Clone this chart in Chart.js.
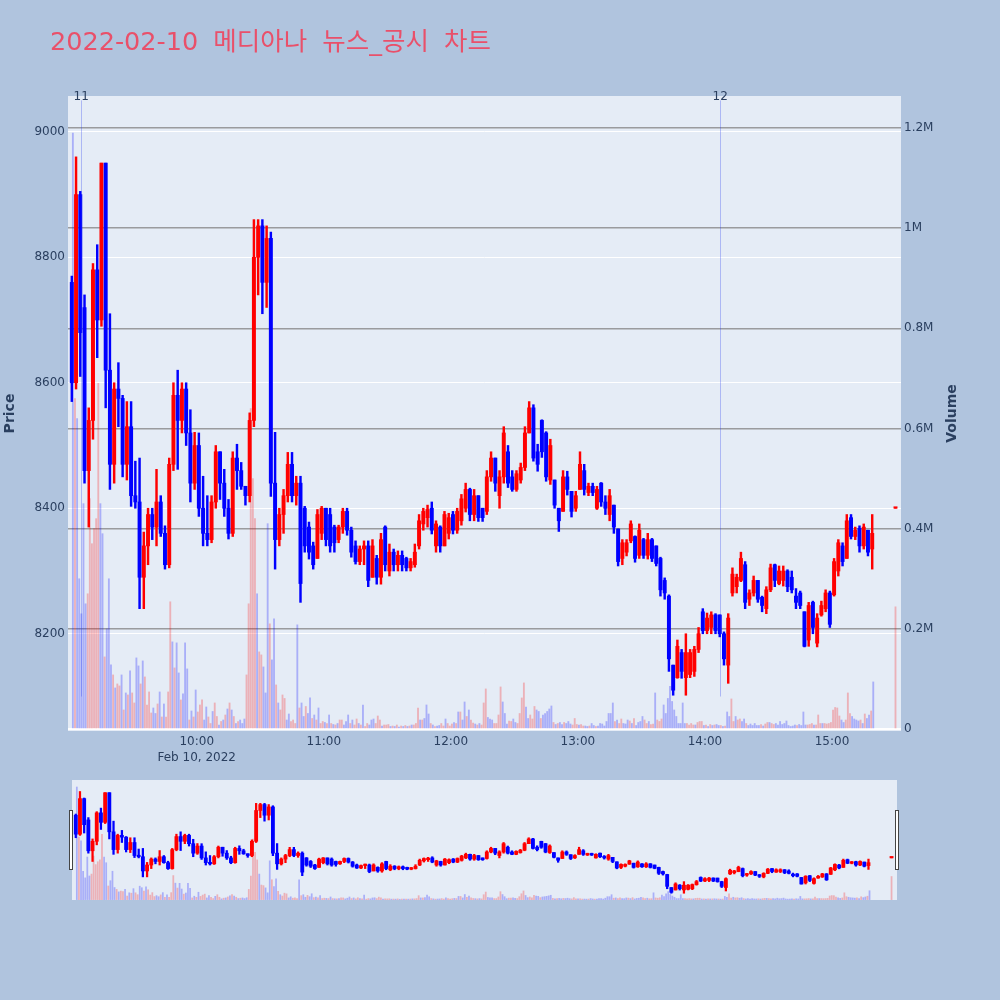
<!DOCTYPE html>
<html>
<head>
<meta charset="utf-8">
<script src="https://cdn.jsdelivr.net/npm/chart.js@4.4.1/dist/chart.umd.min.js"></script>
<style>
  html, body { margin: 0; padding: 0; background: #b0c4de; }
  #wrap { position: relative; width: 1000px; height: 1000px; }
  #main { position: absolute; left: 0; top: 0; }
  #slider { position: absolute; left: 60px; top: 775px; }
</style>
</head>
<body>
<div id="wrap">
  <canvas id="main" width="1000" height="1000"></canvas>
  <canvas id="slider" width="850" height="130"></canvas>
</div>
<script>
// 2-minute candles from 09:01, last one is the 15:30 closing auction
const openPrices = [
  8760,8600,8900,8720,8460,8540,8780,8700,8950,8620,
  8470,8590,8575,8470,8530,8420,8410,8290,8340,8390,
  8370,8410,8360,8310,8470,8580,8540,8590,8520,8440,
  8500,8400,8360,8350,8410,8490,8440,8400,8360,8480,
  8460,8435,8420,8540,8800,8850,8760,8830,8440,8350,
  8390,8420,8470,8420,8440,8400,8370,8340,8320,8360,
  8400,8390,8370,8350,8370,8395,8365,8340,8315,8335,
  8340,8290,8320,8290,8370,8300,8330,8310,8325,8320,
  8305,8310,8340,8375,8385,8400,8340,8370,8340,8360,
  8390,8365,8380,8400,8430,8390,8420,8400,8395,8450,
  8480,8420,8450,8490,8450,8430,8445,8465,8520,8560,
  8490,8540,8520,8445,8445,8400,8395,8450,8427,8400,
  8430,8460,8425,8435,8400,8440,8410,8390,8405,8367,
  8320,8330,8348,8355,8325,8350,8325,8350,8340,8320,
  8285,8260,8150,8130,8170,8130,8135,8140,8175,8235,
  8205,8210,8230,8230,8200,8150,8265,8275,8285,8310,
  8255,8265,8285,8258,8240,8270,8310,8280,8285,8300,
  8290,8260,8265,8235,8190,8250,8185,8230,8240,8265,
  8262,8300,8340,8320,8385,8355,8368,8340,8365,8335,
  8400
];
const highPrices = [
  8770,8960,8905,8740,8560,8790,8820,8950,8950,8710,
  8600,8632,8580,8570,8570,8475,8480,8362,8400,8400,
  8462,8420,8372,8480,8600,8620,8600,8600,8557,8521,
  8520,8451,8420,8420,8500,8490,8462,8414,8490,8502,
  8473,8435,8552,8860,8860,8860,8850,8840,8521,8400,
  8430,8489,8489,8451,8451,8403,8378,8346,8398,8403,
  8400,8400,8373,8373,8400,8400,8370,8348,8340,8348,
  8348,8350,8325,8360,8372,8343,8335,8332,8332,8322,
  8320,8343,8390,8400,8405,8410,8380,8372,8395,8392,
  8395,8400,8422,8440,8432,8430,8420,8400,8460,8490,
  8480,8460,8530,8500,8460,8460,8472,8530,8570,8565,
  8502,8541,8522,8510,8445,8400,8460,8459,8427,8427,
  8490,8470,8440,8440,8435,8441,8420,8430,8405,8367,
  8350,8350,8380,8356,8375,8352,8360,8352,8340,8322,
  8289,8262,8150,8190,8175,8200,8175,8180,8210,8240,
  8233,8235,8232,8230,8203,8232,8305,8295,8330,8315,
  8270,8292,8285,8260,8275,8311,8311,8308,8308,8302,
  8300,8272,8268,8235,8250,8252,8232,8252,8270,8268,
  8320,8350,8345,8390,8390,8370,8372,8375,8365,8390,
  8400
];
const lowPrices = [
  8570,8590,8610,8440,8370,8510,8640,8690,8560,8430,
  8440,8530,8450,8445,8403,8400,8240,8240,8310,8350,
  8340,8355,8303,8305,8460,8462,8520,8500,8410,8430,
  8387,8340,8340,8345,8400,8414,8387,8351,8355,8430,
  8430,8405,8410,8530,8740,8710,8720,8419,8303,8340,
  8360,8410,8410,8405,8250,8330,8319,8303,8320,8350,
  8340,8330,8330,8345,8360,8357,8322,8311,8310,8310,
  8275,8290,8279,8279,8300,8292,8300,8300,8300,8300,
  8300,8306,8335,8365,8370,8359,8330,8330,8340,8351,
  8359,8360,8373,8394,8380,8380,8379,8379,8390,8443,
  8427,8400,8440,8433,8427,8427,8440,8460,8520,8475,
  8459,8481,8443,8438,8400,8363,8395,8421,8386,8395,
  8430,8421,8420,8420,8398,8403,8390,8380,8360,8308,
  8310,8324,8345,8314,8320,8320,8319,8315,8308,8260,
  8255,8140,8102,8129,8129,8102,8130,8132,8170,8200,
  8200,8200,8200,8195,8150,8121,8260,8265,8283,8240,
  8245,8260,8250,8235,8232,8267,8275,8278,8276,8267,
  8265,8240,8240,8179,8180,8200,8179,8228,8235,8210,
  8260,8292,8308,8320,8351,8350,8330,8335,8324,8303,
  8400
];
const closePrices = [
  8600,8900,8680,8460,8540,8780,8700,8950,8620,8470,
  8590,8575,8470,8530,8420,8410,8290,8340,8390,8370,
  8410,8360,8310,8470,8580,8540,8590,8520,8440,8500,
  8400,8360,8350,8410,8490,8440,8400,8360,8480,8460,
  8435,8420,8540,8800,8850,8760,8830,8440,8350,8390,
  8420,8470,8420,8440,8280,8340,8330,8310,8390,8400,
  8350,8340,8345,8370,8395,8365,8330,8315,8335,8340,
  8285,8340,8290,8350,8310,8330,8310,8325,8310,8305,
  8315,8330,8380,8395,8398,8365,8375,8340,8390,8385,
  8365,8395,8415,8430,8390,8420,8385,8385,8450,8480,
  8440,8450,8520,8440,8430,8455,8465,8520,8560,8480,
  8470,8490,8450,8500,8405,8380,8450,8430,8395,8420,
  8470,8430,8435,8425,8430,8410,8400,8420,8370,8315,
  8345,8345,8375,8320,8365,8325,8350,8320,8312,8270,
  8265,8160,8110,8180,8140,8170,8170,8175,8200,8205,
  8225,8230,8205,8200,8160,8225,8295,8290,8320,8250,
  8265,8285,8255,8245,8270,8305,8285,8300,8300,8275,
  8270,8250,8245,8180,8245,8210,8225,8245,8265,8215,
  8315,8345,8315,8380,8355,8365,8340,8370,8330,8360,
  8400
];

// 1-minute volume (shares), last one is the closing auction
const volume = [
  1190000,660000,620000,300000,230000,450000,250000,270000,460000,370000,
  400000,420000,690000,450000,390000,144000,200000,300000,128000,108000,
  82000,90000,86000,108000,38000,72000,68000,116000,72000,52000,
  142000,126000,90000,136000,104000,48000,74000,32000,42000,31000,
  50000,74000,24000,50000,24000,74000,254000,174000,122000,172000,
  112000,58000,70000,172000,120000,18000,36000,24000,78000,34000,
  48000,58000,18000,44000,24000,11000,35000,52000,25000,8000,
  15000,18000,28000,40000,52000,38000,25000,11000,15000,18000,
  11000,20000,108000,250000,640000,500000,420000,270000,154000,148000,
  124000,72000,410000,210000,138000,220000,88000,52000,38000,68000,
  61000,18000,30000,15000,18000,11000,208000,42000,52000,25000,
  45000,31000,62000,21000,28000,18000,42000,11000,15000,13000,
  11000,28000,11000,9000,8000,11000,18000,18000,8000,15000,
  28000,11000,18000,8000,20000,11000,8000,48000,5000,11000,
  8000,18000,20000,11000,26000,18000,6000,8000,8000,9000,
  5000,6000,5000,8000,4000,6000,5000,7000,5000,6000,
  8000,8000,11000,42000,18000,18000,21000,48000,30000,11000,
  8000,5000,6000,7000,11000,6000,20000,11000,6000,10000,
  13000,11000,34000,34000,18000,54000,25000,38000,18000,12000,
  10000,8000,11000,8000,52000,80000,23000,20000,18000,11000,
  11000,28000,84000,54000,31000,10000,16000,15000,20000,13000,
  11000,31000,62000,92000,44000,21000,28000,20000,45000,38000,
  35000,21000,28000,31000,35000,40000,46000,13000,9000,11000,
  13000,9000,13000,11000,15000,10000,8000,21000,9000,8000,
  9000,6000,6000,5000,6000,11000,7000,5000,6000,11000,
  10000,6000,15000,31000,31000,52000,15000,18000,11000,20000,
  11000,10000,18000,16000,11000,21000,7000,13000,15000,25000,
  18000,11000,15000,9000,10000,72000,18000,15000,20000,48000,
  31000,61000,85000,55000,38000,25000,11000,11000,52000,11000,
  11000,8000,11000,8000,8000,13000,15000,15000,7000,8000,
  5000,9000,7000,8000,9000,7000,7000,5000,6000,34000,
  25000,60000,15000,25000,18000,20000,15000,20000,11000,7000,
  10000,7000,11000,7000,7000,9000,6000,10000,13000,13000,
  11000,9000,11000,8000,15000,9000,11000,16000,7000,5000,
  6000,8000,7000,9000,7000,34000,8000,8000,9000,11000,
  8000,8000,28000,11000,11000,11000,10000,11000,13000,38000,
  43000,42000,26000,18000,13000,18000,72000,31000,25000,20000,
  18000,16000,18000,11000,30000,21000,28000,36000,94000,
  244000
];
// 1 = price rose in that minute (red), 0 = fell (blue)
const volumeUp = [
  0,1,0,0,0,0,0,1,1,1, 1,1,1,0,0,1,0,0,0,1, 0,1,1,0,1,0,1,0,1,1, 0,0,1,0,1,1,1,1,0,0,
  1,0,1,0,1,1,1,0,1,0, 0,1,0,0,0,1,0,1,0,1, 1,1,0,0,1,1,0,1,1,0, 1,0,1,0,1,0,1,0,1,0,
  0,0,1,1,1,1,1,0,1,1, 0,0,0,1,0,0,1,0,1,1, 1,0,0,1,1,1,0,1,0,0, 1,0,0,1,0,1,0,1,1,0,
  1,0,1,0,1,0,1,1,0,0, 0,1,0,1,1,0,1,0,1,1, 0,0,0,1,1,1,0,1,1,1, 0,1,0,1,0,1,0,1,0,1,
  0,1,1,1,0,1,0,0,0,1, 0,1,0,0,1,1,0,1,1,1, 0,1,0,1,0,0,1,0,1,1, 0,1,0,1,1,1,0,0,0,1,
  1,1,1,0,0,0,1,1,0,0, 1,1,1,1,0,0,1,1,1,0, 0,1,0,0,0,0,0,1,0,1, 0,0,1,0,0,0,1,1,1,0,
  1,1,0,0,1,0,0,1,0,0, 0,0,0,0,0,0,1,0,1,1, 0,0,0,1,0,1,0,0,0,0, 1,1,0,1,1,0,1,1,1,0,
  0,0,0,0,0,0,0,0,0,0, 1,1,1,1,0,1,1,1,0,1, 0,1,0,1,0,0,1,0,1,0, 0,1,1,0,1,1,0,0,1,0,
  0,0,0,0,0,1,0,1,1,0, 1,1,0,0,0,0,0,0,0,0, 0,0,1,0,0,0,0,1,1,1, 0,1,1,1,0,1,1,1,1,1,
  1,1,1,0,0,1,1,1,0,0, 0,0,1,0,1,0,0,1,0,
  1
];

const priceTicks = [8200, 8400, 8600, 8800, 9000];
const volumeTicks = [0, 200000, 400000, 600000, 800000, 1000000, 1200000];
const volumeTickLabels = ['0', '0.2M', '0.4M', '0.6M', '0.8M', '1M', '1.2M'];
const hourTicks = [60, 120, 180, 240, 300, 360];   // minutes after 09:00
const hourLabels = ['10:00', '11:00', '12:00', '13:00', '14:00', '15:00'];
const newsMarks = [{ minute: 5.2, text: '11' }, { minute: 307, text: '12' }];
const auctionMinute = 390;

const UP = '#ff0000', DOWN = '#0000ff';
const UP_VOL = 'rgba(255,0,0,0.25)', DOWN_VOL = 'rgba(0,0,255,0.26)';
const FONT = "'DejaVu Sans', 'Noto Sans CJK KR', sans-serif";
const TXT = '#2a3f5f';

const candleMinutes = [];
for (let k = 0; k < closePrices.length - 1; k++) candleMinutes.push(1 + 2 * k);
candleMinutes.push(auctionMinute);
const volumeMinutes = [];
for (let i = 0; i < volume.length - 1; i++) volumeMinutes.push(1.5 + i);
volumeMinutes.push(auctionMinute);

const X_MIN = -0.8, X_MAX = 392.6;
const P_MIN = 8045, P_MAX = 9057;
const V_MIN = -4000, V_MAX = 1264000;

function makeDatasets(bodyW, wickW, volW) {
  const colors = closePrices.map((c, k) => c >= openPrices[k] ? UP : DOWN);
  return [
    {
      label: 'body', yAxisID: 'y', order: 1, grouped: false,
      data: candleMinutes.map((m, k) => ({ x: m, y: [openPrices[k], closePrices[k]] })),
      backgroundColor: colors, barThickness: bodyW, minBarLength: 1.5
    },
    {
      label: 'wick', yAxisID: 'y', order: 2, grouped: false,
      data: candleMinutes.map((m, k) => ({ x: m, y: [lowPrices[k], highPrices[k]] })),
      backgroundColor: colors, barThickness: wickW
    },
    {
      label: 'volume', yAxisID: 'yv', order: 3, grouped: false,
      data: volumeMinutes.map((m, i) => ({ x: m, y: volume[i] })),
      backgroundColor: volumeUp.map(u => u ? UP_VOL : DOWN_VOL), barThickness: volW
    }
  ];
}

const mainDecor = {
  id: 'mainDecor',
  beforeDraw(chart) {
    const { ctx, chartArea: a } = chart;
    ctx.save();
    ctx.fillStyle = '#b0c4de';
    ctx.fillRect(0, 0, chart.width, chart.height);
    ctx.fillStyle = '#e5ecf6';
    ctx.fillRect(a.left, a.top, a.right - a.left, a.bottom - a.top);
    ctx.restore();
  },
  afterDatasetsDraw(chart) {
    const { ctx, scales } = chart;
    ctx.save();
    ctx.strokeStyle = 'rgba(40,60,240,0.3)';
    ctx.lineWidth = 1;
    newsMarks.forEach(n => {
      const x = Math.round(scales.x.getPixelForValue(n.minute)) + 0.5;
      ctx.beginPath();
      ctx.moveTo(x, scales.y.getPixelForValue(8100));
      ctx.lineTo(x, scales.y.getPixelForValue(9050));
      ctx.stroke();
    });
    ctx.restore();
  },
  afterDraw(chart) {
    const { ctx, scales, chartArea: a } = chart;
    ctx.save();
    ctx.fillStyle = '#e9506a';
    ctx.font = '25.5px ' + FONT;
    ctx.textBaseline = 'alphabetic';
    ctx.wordSpacing = '7px';
    ctx.fillText('2022-02-10 메디아나 뉴스_공시 차트', 50, 50);
    ctx.wordSpacing = '0px';

    ctx.fillStyle = TXT;
    ctx.font = '12px ' + FONT;
    ctx.textAlign = 'center';
    newsMarks.forEach(n => {
      ctx.fillText(n.text, scales.x.getPixelForValue(n.minute) + 0.5, 100);
    });

    ctx.font = 'bold 14px ' + FONT;
    ctx.textBaseline = 'middle';
    const midY = (a.top + a.bottom) / 2;
    ctx.translate(10, midY);
    ctx.rotate(-Math.PI / 2);
    ctx.fillText('Price', 0, 0);
    ctx.rotate(Math.PI / 2);
    ctx.translate(942, 0);
    ctx.rotate(-Math.PI / 2);
    ctx.fillText('Volume', 0, 0);
    ctx.restore();
  }
};

new Chart(document.getElementById('main'), {
  type: 'bar',
  data: { datasets: makeDatasets(3.3, 1.8, 1.2) },
  options: {
    responsive: false,
    animation: false,
    events: [],
    layout: { padding: { top: 96, left: 0, right: 0, bottom: 0 } },
    plugins: { legend: { display: false }, tooltip: { enabled: false }, title: { display: false } },
    scales: {
      x: {
        type: 'linear', min: X_MIN, max: X_MAX, offset: false,
        grid: { display: false, drawTicks: false }, border: { display: false },
        afterBuildTicks: s => { s.ticks = hourTicks.map(v => ({ value: v })); },
        afterFit: s => { s.height = 269; },
        ticks: {
          autoSkip: false, maxRotation: 0, padding: 2, color: TXT,
          font: { family: FONT, size: 12, lineHeight: 1.4 },
          callback: (v, i) => i === 0 ? [hourLabels[0], 'Feb 10, 2022'] : hourLabels[i]
        }
      },
      y: {
        position: 'left', min: P_MIN, max: P_MAX,
        grid: { color: '#ffffff', lineWidth: 1, drawTicks: false }, border: { display: false },
        afterBuildTicks: s => { s.ticks = priceTicks.map(v => ({ value: v })); },
        afterFit: s => { s.width = 68; },
        ticks: { padding: 3, color: TXT, font: { family: FONT, size: 12 }, callback: v => String(v) }
      },
      yv: {
        position: 'right', min: V_MIN, max: V_MAX,
        grid: {
          drawTicks: false,
          color: c => c.tick && c.tick.value === 0 ? '#ffffff' : 'rgba(128,128,128,0.75)',
          lineWidth: c => c.tick && c.tick.value === 0 ? 2 : 1.5
        },
        border: { display: false },
        afterBuildTicks: s => { s.ticks = volumeTicks.map(v => ({ value: v })); },
        afterFit: s => { s.width = 99; },
        ticks: { padding: 3, color: TXT, font: { family: FONT, size: 12 }, callback: (v, i) => volumeTickLabels[i] }
      }
    }
  },
  plugins: [mainDecor]
});

// range slider look-alike under the main plot
const sliderDecor = {
  id: 'sliderDecor',
  beforeDraw(chart) {
    const { ctx, chartArea: a } = chart;
    ctx.save();
    ctx.fillStyle = '#b0c4de';
    ctx.fillRect(0, 0, chart.width, chart.height);
    ctx.fillStyle = '#e5ecf6';
    ctx.fillRect(a.left, a.top, a.right - a.left, a.bottom - a.top);
    ctx.restore();
  },
  afterDraw(chart) {
    const { ctx } = chart;
    ctx.save();
    ctx.fillStyle = '#ffffff';
    ctx.strokeStyle = '#444444';
    ctx.lineWidth = 1;
    [9.5, 835.5].forEach(x => {
      ctx.fillRect(x, 35.5, 3, 59);
      ctx.strokeRect(x, 35.5, 3, 59);
    });
    ctx.restore();
  }
};

new Chart(document.getElementById('slider'), {
  type: 'bar',
  data: { datasets: makeDatasets(3.2, 1.6, 1.1) },
  options: {
    responsive: false,
    animation: false,
    events: [],
    layout: { padding: { top: 5, left: 12, right: 13, bottom: 5 } },
    plugins: { legend: { display: false }, tooltip: { enabled: false } },
    scales: {
      x: { type: 'linear', min: X_MIN, max: X_MAX, offset: false, display: false },
      y: { min: P_MIN, max: P_MAX, display: false },
      yv: { position: 'right', min: V_MIN, max: V_MAX, display: false }
    }
  },
  plugins: [sliderDecor]
});
</script>
</body>
</html>
